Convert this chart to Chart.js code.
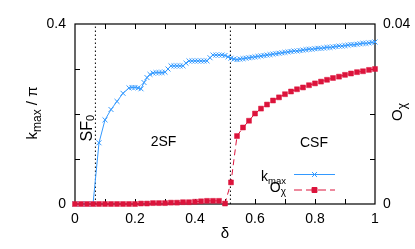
<!DOCTYPE html>
<html><head><meta charset="utf-8">
<script src="https://cdn.jsdelivr.net/npm/chart.js@4/dist/chart.umd.min.js"></script>
<style>html,body{margin:0;padding:0;background:#fff;}#wrap{width:415px;height:249px;}</style>
</head><body><div id="wrap"><canvas id="c" width="415" height="249"></canvas></div>
<script>
// ---- data ----
const kmaxDelta = [0,0.02,0.04,0.06,0.08,0.10,0.12,0.14,0.16,0.18,0.19,0.20,0.21,0.22,0.23,0.24,0.25,0.26,0.27,0.28,0.29,0.30,
  0.31,0.32,0.33,0.34,0.35,0.36,0.37,0.38,0.39,0.40,0.41,0.42,0.43,0.44,0.45,0.46,0.47,0.48,0.49,0.50,
  0.51,0.52,0.53,0.54,0.55,0.56,0.57,0.58,0.59,0.60,0.61,0.62,0.63,0.64,0.65,0.66,0.67,0.68,0.69,0.70,
  0.71,0.72,0.73,0.74,0.75,0.76,0.77,0.78,0.79,0.80,0.81,0.82,0.83,0.84,0.85,0.86,0.87,0.88,0.89,0.90,
  0.91,0.92,0.93,0.94,0.95,0.96,0.97,0.98,0.99,1.00];
const kmaxValues = [0,0,0,0,0.136,0.187,0.210,0.228,0.246,0.258,0.259,0.259,0.258,0.256,0.270,0.281,0.288,0.291,0.292,0.292,0.292,0.293,
  0.300,0.307,0.307,0.307,0.307,0.307,0.313,0.318,0.318,0.318,0.318,0.318,0.318,0.318,0.325,0.331,0.331,0.331,0.331,0.330,
  0.327,0.324,0.322,0.321,0.322,0.323,0.324,0.325,0.326,0.327,0.328,0.329,0.330,0.331,0.332,0.333,0.334,0.335,0.336,0.337,
  0.338,0.339,0.340,0.340,0.341,0.342,0.343,0.344,0.344,0.345,0.346,0.346,0.347,0.348,0.348,0.349,0.350,0.351,0.351,0.352,
  0.353,0.354,0.354,0.355,0.356,0.357,0.357,0.358,0.359,0.360];
const ochiDelta = [0,0.02,0.04,0.06,0.08,0.10,0.12,0.14,0.16,0.18,0.20,0.22,0.24,0.26,0.28,0.30,0.32,0.34,0.36,0.38,0.40,
  0.42,0.44,0.46,0.48,0.50,0.52,0.54,0.56,0.58,0.60,0.62,0.64,0.66,0.68,0.70,0.72,0.74,0.76,0.78,0.80,
  0.82,0.84,0.86,0.88,0.90,0.92,0.94,0.96,0.98,1.00];
const ochiValues = [0,0,0,0,0,0,0,0,0,0,0,0.0001,0.0001,0.0002,0.0002,0.0002,0.0003,0.0003,0.0004,0.0004,0.0005,
  0.0006,0.0007,0.0007,0.0007,0.0001,0.0048,0.0151,0.0170,0.0185,0.0201,0.0212,0.0221,0.0230,0.0237,0.0244,0.0250,0.0255,0.0259,0.0264,0.0268,
  0.0272,0.0276,0.0280,0.0283,0.0287,0.0290,0.0293,0.0295,0.0298,0.0300];
const phaseBoundaries = [0.068, 0.518];
const xTickLabels = ['0','0.2','0.4','0.6','0.8','1'];
const yLeftTickLabels = ['0','0.4'];
const yRightTickLabels = ['0','0.04'];
const seriesNames = [['k','max'],['O','\u03c7']];
const regionLabels = ['2SF','CSF'];
const sfLabel = ['SF','0'];
const xTitle = '\u03b4';
const yTitle = ['k','max',' / \u03c0'];
const y2Title = ['O','\u03c7'];

const BLUE = '#3399ff', RED = '#dc143c';
const FONT = '"Liberation Sans", Arial, Helvetica, sans-serif';

function pts(xs, ys){ return xs.map((x,i)=>({x:x, y:ys[i]})); }

function drawParts(ctx, parts, x, y, align){
  // parts: [text, size, dy]
  let w = 0;
  parts.forEach(p=>{ ctx.font = p[1]+'px '+FONT; w += ctx.measureText(p[0]).width; });
  let cx = align==='center' ? x - w/2 : align==='right' ? x - w : x;
  ctx.textAlign = 'left'; ctx.textBaseline = 'alphabetic';
  parts.forEach(p=>{ ctx.font = p[1]+'px '+FONT; ctx.fillText(p[0], cx, y + (p[2]||0)); cx += ctx.measureText(p[0]).width; });
}

const decor = {
  id:'decor',
  beforeDatasetsDraw(chart){
    const ctx = chart.ctx, a = chart.chartArea, sx = chart.scales.x, sy = chart.scales.y, sy2 = chart.scales.y2;
    ctx.save();
    ctx.strokeStyle = '#000'; ctx.lineWidth = 1.2;
    ctx.strokeRect(a.left, a.top, a.right - a.left, a.bottom - a.top);
    ctx.lineWidth = 1;
    ctx.beginPath();
    sx.ticks.forEach(t=>{ if (t.value<=0 || t.value>=1) return; const px = Math.round(sx.getPixelForValue(t.value))+0.5;
      ctx.moveTo(px, a.bottom); ctx.lineTo(px, a.bottom-5); ctx.moveTo(px, a.top); ctx.lineTo(px, a.top+5); });
    sy.ticks.forEach(t=>{ if (t.value<=0 || t.value>=0.4-1e-9) return; const py = Math.round(sy.getPixelForValue(t.value))+0.5;
      ctx.moveTo(a.left, py); ctx.lineTo(a.left+5, py); });
    sy2.ticks.forEach(t=>{ if (t.value<=0 || t.value>=0.04-1e-9) return; const py = Math.round(sy2.getPixelForValue(t.value))+0.5;
      ctx.moveTo(a.right, py); ctx.lineTo(a.right-5, py); });
    ctx.stroke();
    ctx.restore();
  },
  afterDraw(chart){
    const ctx = chart.ctx, a = chart.chartArea;
    ctx.save();
    ctx.fillStyle = '#000';
    // y title (left)
    ctx.save(); ctx.translate(37, (a.top+a.bottom)/2 - 1); ctx.rotate(-Math.PI/2);
    drawParts(ctx, [[yTitle[0],15,0],[yTitle[1],12,4],[yTitle[2],15,0]], 0, 0, 'center'); ctx.restore();
    // y2 title (right)
    ctx.save(); ctx.translate(402, (a.top+a.bottom)/2 - 2); ctx.rotate(-Math.PI/2);
    drawParts(ctx, [[y2Title[0],15,0],[y2Title[1],12,4]], 0, 0, 'center'); ctx.restore();
    // x title
    drawParts(ctx, [[xTitle,15,0]], (a.left+a.right)/2, 238, 'center');
    // SF0 label
    ctx.save(); ctx.translate(91.5, 141.5); ctx.rotate(-Math.PI/2);
    drawParts(ctx, [[sfLabel[0],16,0],[sfLabel[1],11,2]], 0, 0, 'left'); ctx.restore();
    // region labels
    drawParts(ctx, [[regionLabels[0],14,0]], 163.5, 146, 'center');
    drawParts(ctx, [[regionLabels[1],14,0]], 314, 146.5, 'center');
    // legend
    drawParts(ctx, [[seriesNames[0][0],14,0],[seriesNames[0][1],9.5,3]], 286, 180.5, 'right');
    drawParts(ctx, [[seriesNames[1][0],14,0],[seriesNames[1][1],10,3]], 286, 191.5, 'right');
    ctx.lineWidth = 1;
    ctx.strokeStyle = BLUE;
    ctx.beginPath(); ctx.moveTo(294, 174.5); ctx.lineTo(335, 174.5); ctx.stroke();
    Chart.helpers.drawPoint(ctx, {pointStyle:'crossRot', radius:3.5, borderWidth:1}, 314.5, 174.5);
    ctx.strokeStyle = RED; ctx.setLineDash([8,4]);
    ctx.beginPath(); ctx.moveTo(294, 190); ctx.lineTo(335, 190); ctx.stroke();
    ctx.setLineDash([]); ctx.fillStyle = RED;
    Chart.helpers.drawPoint(ctx, {pointStyle:'rect', radius:3.5, borderWidth:1}, 314.5, 190);
    ctx.restore();
  }
};

const boundaryDatasets = phaseBoundaries.map(b=>({
  data: [{x:b, y:0},{x:b, y:0.4}], yAxisID:'y', borderColor:'#000', borderWidth:1,
  borderDash:[1.5,2.5], pointRadius:0, order:3
}));

new Chart(document.getElementById('c'), {
  type:'line',
  data:{ datasets:[
    { label:'kmax', data: pts(kmaxDelta, kmaxValues), yAxisID:'y', borderColor:BLUE, borderWidth:1,
      pointStyle:'crossRot', pointRadius:3.5, pointBorderColor:BLUE, pointBorderWidth:1, tension:0, fill:false, order:2, clip:6 },
    { label:'O', data: pts(ochiDelta, ochiValues), yAxisID:'y2', borderColor:RED, borderWidth:1, borderDash:[6,4],
      pointStyle:'rect', pointRadius:3.5, pointBackgroundColor:RED, pointBorderColor:RED, pointBorderWidth:0.5, tension:0, fill:false, order:1, clip:6 },
    ...boundaryDatasets
  ]},
  options:{
    responsive:false, animation:false, devicePixelRatio:1,
    layout:{ padding:{ top:24, left:0, right:0, bottom:0 } },
    plugins:{ legend:{display:false}, tooltip:{enabled:false} },
    scales:{
      x:{ type:'linear', min:0, max:1, position:'bottom',
        grid:{display:false, drawTicks:false}, border:{display:false},
        ticks:{ stepSize:0.1, autoSkip:false, maxRotation:0, padding:7, color:'#000', font:{family:FONT, size:14},
          callback:(v)=>{ const k = v*5; return Math.abs(k-Math.round(k))<1e-6 ? xTickLabels[Math.round(k)] : ''; } },
        afterFit:(s)=>{ s.height = 45; } },
      y:{ type:'linear', min:0, max:0.4, position:'left',
        grid:{display:false, drawTicks:false}, border:{display:false},
        ticks:{ stepSize:0.1, padding:9, color:'#000', font:{family:FONT, size:14},
          callback:(v)=> Math.abs(v)<1e-9 ? yLeftTickLabels[0] : (Math.abs(v-0.4)<1e-9 ? yLeftTickLabels[1] : '') },
        afterFit:(s)=>{ s.width = 75; } },
      y2:{ type:'linear', min:0, max:0.04, position:'right',
        grid:{display:false, drawTicks:false}, border:{display:false},
        ticks:{ stepSize:0.01, padding:8, color:'#000', font:{family:FONT, size:14},
          callback:(v)=> Math.abs(v)<1e-9 ? yRightTickLabels[0] : (Math.abs(v-0.04)<1e-9 ? yRightTickLabels[1] : '') },
        afterFit:(s)=>{ s.width = 40; } }
    }
  },
  plugins:[decor]
});
</script>
</body></html>
